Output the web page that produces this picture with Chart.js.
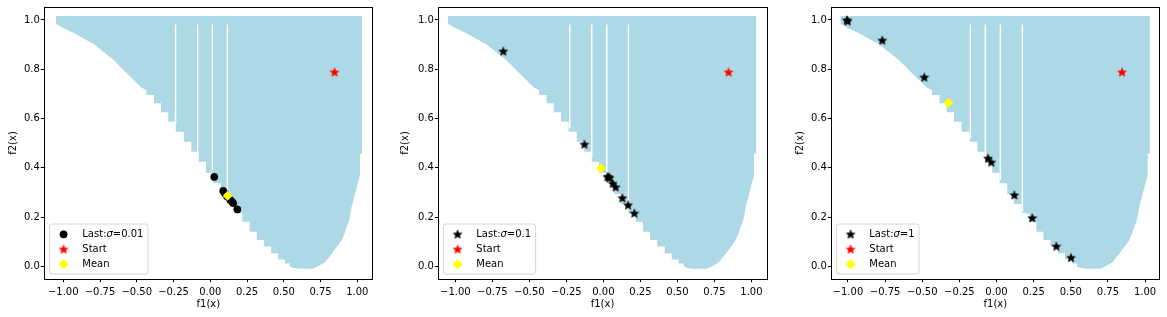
<!DOCTYPE html>
<html><head><meta charset="utf-8">
<script src="https://cdn.jsdelivr.net/npm/chart.js@4/dist/chart.umd.min.js"></script>
<style>
html,body{margin:0;padding:0;background:#fff;}
body{width:1167px;height:317px;position:relative;overflow:hidden;}
canvas{position:absolute;top:0;}
</style></head><body>
<canvas id="c1" width="380" height="317" style="left:0px"></canvas>
<canvas id="c2" width="380" height="317" style="left:392px"></canvas>
<canvas id="c3" width="382" height="317" style="left:785px"></canvas>
<script>
// ---- tick labels ----
const xTickValues = [-1, -0.75, -0.5, -0.25, 0, 0.25, 0.5, 0.75, 1];
const xTickLabels = ['\u22121.00', '\u22120.75', '\u22120.50', '\u22120.25', '0.00', '0.25', '0.50', '0.75', '1.00'];
const yTickValues = [0, 0.2, 0.4, 0.6, 0.8, 1.0];
const yTickLabels = ['0.0', '0.2', '0.4', '0.6', '0.8', '1.0'];

// ---- feasible objective region outline ----
const regionX = [-1.05, 1.032, 1.032, 1.018, 1.018, 1.0, 0.98, 0.962, 0.946, 0.928, 0.912, 0.894, 0.86, 0.826, 0.78, 0.746, 0.70, 0.60, 0.56, 0.542,
  0.542, 0.508, 0.508, 0.462, 0.462, 0.414, 0.414, 0.364, 0.364, 0.316, 0.316, 0.268, 0.268, 0.218, 0.218, 0.169, 0.169, 0.117, 0.117, 0.072,
  0.072, 0.021, 0.021, -0.029, -0.029, -0.079, -0.079, -0.129, -0.129, -0.180, -0.180, -0.235, -0.235, -0.286, -0.286, -0.335, -0.335, -0.383, -0.383, -0.435,
  -0.435, -0.473, -0.519, -0.565, -0.61, -0.655, -0.723, -0.791, -0.859, -0.927, -0.995, -1.05];
const regionY = [1.016, 1.016, 0.457, 0.457, 0.37, 0.33, 0.283, 0.243, 0.19, 0.16, 0.132, 0.106, 0.078, 0.051, 0.017, 0.004, -0.01, -0.01, -0.006, 0.0,
  0.012, 0.012, 0.028, 0.028, 0.053, 0.053, 0.08, 0.08, 0.107, 0.107, 0.14, 0.14, 0.181, 0.181, 0.215, 0.215, 0.253, 0.253, 0.294, 0.294,
  0.337, 0.337, 0.38, 0.38, 0.425, 0.425, 0.465, 0.465, 0.506, 0.506, 0.546, 0.546, 0.587, 0.587, 0.625, 0.625, 0.662, 0.662, 0.695, 0.695,
  0.715, 0.728, 0.755, 0.782, 0.809, 0.836, 0.869, 0.901, 0.924, 0.947, 0.965, 0.985];

// white gaps in the region (per panel)
const gapTop = 0.982;
const gapX1 = [-0.236, -0.086, 0.014, 0.116];
const gapBottom1 = [0.575, 0.44, 0.39, 0.30];
const gapX2 = [-0.227, -0.079, 0.023, 0.169];
const gapBottom2 = [0.56, 0.44, 0.36, 0.23];
const gapX3 = [-0.176, -0.075, 0.026, 0.174];
const gapBottom3 = [0.52, 0.44, 0.35, 0.22];

// ---- series ----
const startX = [0.845], startY = [0.788];
const last1X = [0.027, 0.088, 0.100, 0.115, 0.135, 0.148, 0.156, 0.184];
const last1Y = [0.363, 0.306, 0.295, 0.283, 0.270, 0.262, 0.256, 0.231];
const mean1X = [0.118], mean1Y = [0.286];
const last2X = [-0.676, -0.128, 0.027, 0.036, 0.041, 0.063, 0.083, 0.128, 0.167, 0.209];
const last2Y = [0.873, 0.495, 0.364, 0.362, 0.359, 0.336, 0.321, 0.277, 0.248, 0.215];
const mean2X = [-0.016], mean2Y = [0.398];
const last3X = [-1.007, -1.002, -0.769, -0.486, -0.057, -0.035, 0.120, 0.241, 0.403, 0.502];
const last3Y = [1.000, 0.995, 0.917, 0.767, 0.438, 0.422, 0.289, 0.196, 0.081, 0.035];
const mean3X = [-0.324], mean3Y = [0.664];

const FONT = 'DejaVu Sans';
const pts = (xs, ys) => xs.map((x, i) => ({x: x, y: ys[i]}));

function makeStar(color) {
  const c = document.createElement('canvas'); c.width = 12; c.height = 12;
  const g = c.getContext('2d');
  const R = 4.6, r = R * 0.45;
  g.beginPath();
  for (let k = 0; k < 10; k++) {
    const a = -Math.PI / 2 + k * Math.PI / 5, rr = (k % 2) ? r : R;
    g.lineTo(6 + rr * Math.cos(a), 6.3 + rr * Math.sin(a));
  }
  g.closePath(); g.fillStyle = color; g.fill();
  g.lineWidth = 0.6; g.strokeStyle = color; g.stroke();
  return c;
}
const blackStar = makeStar('#000000');
const redStar = makeStar('#ff0000');

function drawMarker(ctx, kind, x, y) {
  ctx.save();
  if (kind === 'circle') {
    ctx.beginPath(); ctx.arc(x, y, 3.9, 0, Math.PI * 2); ctx.fillStyle = '#000'; ctx.fill();
  } else if (kind === 'bstar') {
    ctx.drawImage(blackStar, x - 6, y - 6);
  } else if (kind === 'rstar') {
    ctx.drawImage(redStar, x - 6, y - 6);
  } else if (kind === 'diamond') {
    ctx.beginPath(); ctx.moveTo(x, y - 5); ctx.lineTo(x + 5, y); ctx.lineTo(x, y + 5); ctx.lineTo(x - 5, y); ctx.closePath();
    ctx.fillStyle = '#ffff00'; ctx.fill();
  }
  ctx.restore();
}

function makePanel(id, p) {
  const datasets = [];
  datasets.push({type: 'line', label: 'Last:\u03c3=' + p.sigma, data: pts(p.lastX, p.lastY), showLine: false,
    pointStyle: p.circle ? 'circle' : blackStar, pointRadius: p.circle ? 3.6 : 4, pointBackgroundColor: '#000', pointBorderColor: '#000', pointBorderWidth: 0.6, order: 2});
  datasets.push({type: 'line', label: 'Start', data: pts(startX, startY), showLine: false,
    pointStyle: redStar, pointRadius: 4, order: 1});
  datasets.push({type: 'line', label: 'Mean', data: pts(p.meanX, p.meanY), showLine: false,
    pointStyle: 'rectRot', pointRadius: 5, pointBackgroundColor: '#ffff00', pointBorderColor: '#ffff00', pointBorderWidth: 0, order: 0});
  p.gapX.forEach((gx, i) => {
    datasets.push({type: 'line', label: 'gap', data: [{x: gx, y: gapTop}, {x: gx, y: p.gapBottom[i]}],
      borderColor: '#ffffff', borderWidth: 1.5, pointRadius: 0, fill: false, order: 3});
  });
  datasets.push({type: 'line', label: 'region', data: pts(regionX, regionY), borderWidth: 0, borderColor: 'rgba(0,0,0,0)',
    backgroundColor: '#add8e6', fill: 'shape', pointRadius: 0, tension: 0, order: 4});

  const framePlugin = {
    id: 'frameLegend',
    afterDraw(chart) {
      const ctx = chart.ctx, a = chart.chartArea;
      ctx.save();
      ctx.strokeStyle = '#000'; ctx.lineWidth = 1;
      ctx.strokeRect(Math.round(a.left) + 0.5, Math.round(a.top) + 0.5, Math.round(a.right) - Math.round(a.left), Math.round(a.bottom) - Math.round(a.top));
      // legend
      const parts = [['Last:', ''], ['\u03c3', 'italic '], ['=' + p.sigma, '']];
      let w1 = 0;
      parts.forEach(pt => { ctx.font = pt[1] + '10px "' + FONT + '"'; w1 += ctx.measureText(pt[0]).width; });
      ctx.font = '10px "' + FONT + '"';
      const wMax = Math.max(w1, ctx.measureText('Start').width, ctx.measureText('Mean').width);
      const bl = a.left + 5.3, bt = a.bottom - 54.7, bh = 50;
      const bw = 32.7 + wMax + 4.5;
      const rr = 2.5;
      ctx.beginPath();
      ctx.moveTo(bl + rr, bt); ctx.lineTo(bl + bw - rr, bt); ctx.arcTo(bl + bw, bt, bl + bw, bt + rr, rr);
      ctx.lineTo(bl + bw, bt + bh - rr); ctx.arcTo(bl + bw, bt + bh, bl + bw - rr, bt + bh, rr);
      ctx.lineTo(bl + rr, bt + bh); ctx.arcTo(bl, bt + bh, bl, bt + bh - rr, rr);
      ctx.lineTo(bl, bt + rr); ctx.arcTo(bl, bt, bl + rr, bt, rr); ctx.closePath();
      ctx.fillStyle = 'rgba(255,255,255,0.8)'; ctx.fill();
      ctx.strokeStyle = 'rgba(204,204,204,0.8)'; ctx.lineWidth = 1; ctx.stroke();
      const mx = bl + 14, tx = bl + 32.7;
      const rows = [bt + 10.3, bt + 25.3, bt + 40.3];
      drawMarker(ctx, p.circle ? 'circle' : 'bstar', mx, rows[0]);
      drawMarker(ctx, 'rstar', mx, rows[1]);
      drawMarker(ctx, 'diamond', mx, rows[2]);
      ctx.fillStyle = '#000'; ctx.textBaseline = 'middle'; ctx.textAlign = 'left';
      let cx = tx;
      parts.forEach(pt => { ctx.font = pt[1] + '10px "' + FONT + '"'; ctx.fillText(pt[0], cx, rows[0]); cx += ctx.measureText(pt[0]).width; });
      ctx.font = '10px "' + FONT + '"';
      ctx.fillText('Start', tx, rows[1]);
      ctx.fillText('Mean', tx, rows[2]);
      ctx.restore();
    }
  };

  const tickFont = {family: FONT, size: 10};
  return new Chart(document.getElementById(id), {
    type: 'scatter',
    data: {datasets: datasets},
    plugins: [framePlugin],
    options: {
      responsive: false, animation: false, devicePixelRatio: 1, events: [],
      layout: {padding: {top: 7.3, right: p.rightPad, bottom: 0, left: 0}},
      plugins: {legend: {display: false}, tooltip: {enabled: false}},
      scales: {
        x: {
          type: 'linear', min: p.xmin, max: p.xmax,
          afterBuildTicks: s => { s.ticks = xTickValues.map(v => ({value: v})); },
          afterFit: s => { s.height = 38.3; },
          ticks: {callback: (v, i) => xTickLabels[i], color: '#000', font: tickFont, padding: 4.5, maxRotation: 0, minRotation: 0, autoSkip: false},
          grid: {drawOnChartArea: false, drawTicks: true, tickLength: 3.5, tickWidth: 1, tickColor: '#000'},
          border: {display: false},
          title: {display: true, text: 'f1(x)', color: '#000', font: tickFont, padding: {top: 7, bottom: 7}}
        },
        y: {
          type: 'linear', min: -0.0502, max: 1.0514,
          afterBuildTicks: s => { s.ticks = yTickValues.map(v => ({value: v})); },
          afterFit: s => { s.width = p.yw; },
          ticks: {callback: (v, i) => yTickLabels[i], color: '#000', font: tickFont, padding: 1},
          grid: {drawOnChartArea: false, drawTicks: true, tickLength: 3.5, tickWidth: 1, tickColor: '#000'},
          border: {display: false},
          title: {display: true, text: 'f2(x)', color: '#000', font: tickFont, padding: {top: p.ytp, bottom: 0}}
        }
      }
    }
  });
}

makePanel('c1', {sigma: '0.01', circle: true, lastX: last1X, lastY: last1Y, meanX: mean1X, meanY: mean1Y,
  gapX: gapX1, gapBottom: gapBottom1, xmin: -1.129, xmax: 1.102, yw: 44.3, rightPad: 7.7, ytp: 7.3});
makePanel('c2', {sigma: '0.1', circle: false, lastX: last2X, lastY: last2Y, meanX: mean2X, meanY: mean2Y,
  gapX: gapX2, gapBottom: gapBottom2, xmin: -1.115, xmax: 1.103, yw: 46.3, rightPad: 5.3, ytp: 7});
makePanel('c3', {sigma: '1', circle: false, lastX: last3X, lastY: last3Y, meanX: mean3X, meanY: mean3Y,
  gapX: gapX3, gapBottom: gapBottom3, xmin: -1.112, xmax: 1.096, yw: 46.3, rightPad: 7.7, ytp: 9.3});
</script>
</body></html>
